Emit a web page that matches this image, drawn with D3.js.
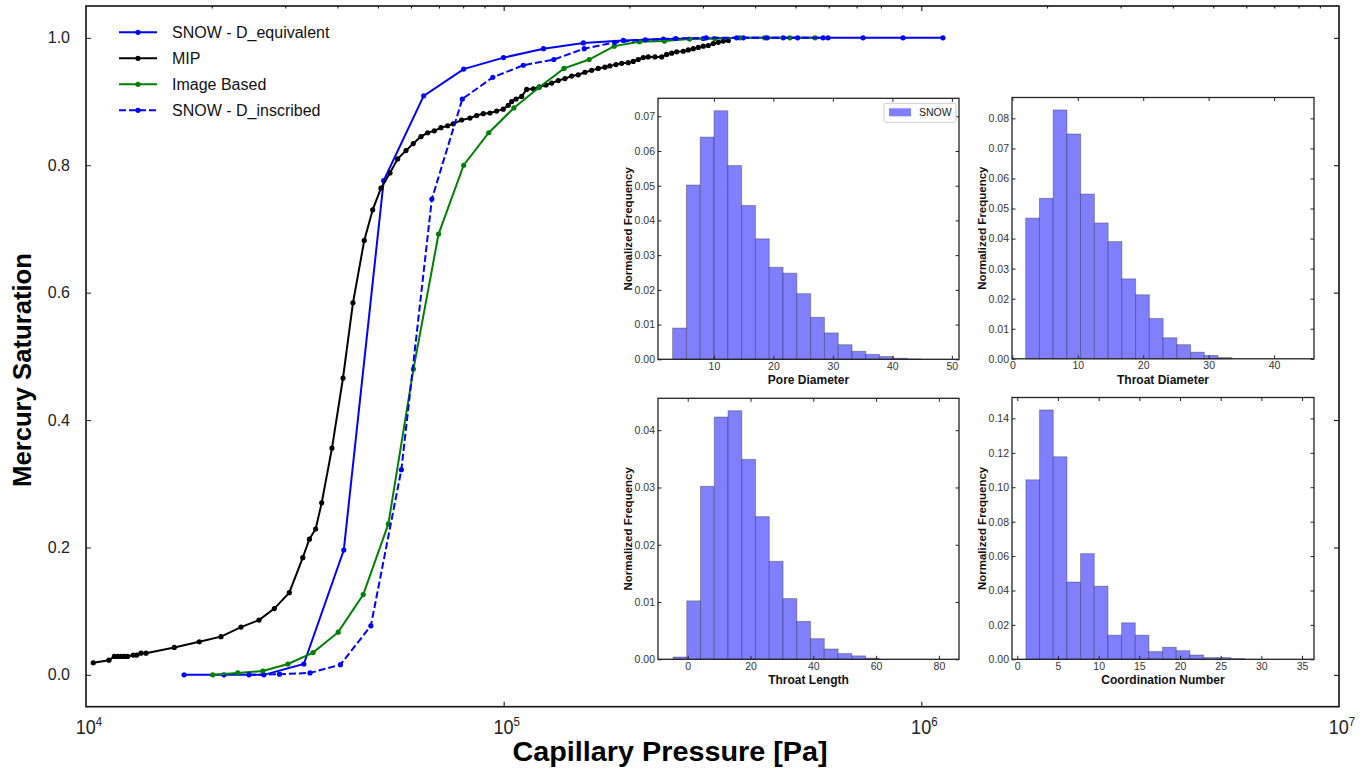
<!DOCTYPE html>
<html lang="en">
<head>
<meta charset="utf-8">
<title>Capillary pressure curves with pore network histograms</title>
<script src="https://d3js.org/d3.v7.min.js" charset="utf-8"></script>
<style type="text/css">
	body { margin: 0; background: #fff; }
	svg { display: block; font-family: "Liberation Sans", Arial, sans-serif; }
	.domain { display: none; }
</style>
</head>
<body>
<script type="text/javascript">

// Main chart data (pressure in Pa, mercury saturation)
var pressureEquivalent = [17170, 21390, 26660, 33230, 41420, 51620, 64340, 80190, 99930, 124560,
	155240, 193480, 241150, 300550, 374600, 466900, 581900, 725300, 903900, 1126600];
var satEquivalent = [0, 0, 0, 0.017, 0.196, 0.776, 0.909, 0.951, 0.969, 0.983,
	0.992, 0.996, 0.998, 0.999, 1, 1, 1, 1, 1, 1];

var pressureMIP = [10410, 11350, 11690, 11910, 12130, 12350, 12580, 12980, 13230, 13540,
	13920, 16270, 18670, 21050, 23500, 25950, 28240, 30670, 33040, 34260,
	35470, 36670, 38810, 41240, 43570, 46370, 48570, 50840, 53430, 55750,
	58360, 60750, 63390, 65770, 68210, 70770, 73430, 75740, 79320, 83030,
	86150, 89350, 92710, 96200, 99780, 102570, 104510, 107010, 110430, 113510,
	117720, 121680, 126250, 130280, 135100, 140190, 145460, 150840, 156520, 162400,
	168420, 174780, 179670, 185710, 191620, 198730, 204280, 210000, 215870, 221910,
	230260, 238910, 245590, 252460, 259520, 269140, 276670, 284410, 292360, 300540,
	308940, 317580, 326460, 335590, 344980];
var satMIP = [0.019, 0.023, 0.029, 0.029, 0.029, 0.029, 0.029, 0.031, 0.031, 0.034,
	0.034, 0.043, 0.052, 0.060, 0.075, 0.086, 0.104, 0.129, 0.184, 0.213,
	0.229, 0.270, 0.356, 0.466, 0.584, 0.682, 0.730, 0.764, 0.788, 0.810,
	0.823, 0.834, 0.845, 0.851, 0.854, 0.859, 0.862, 0.865, 0.871, 0.874,
	0.878, 0.881, 0.882, 0.885, 0.888, 0.894, 0.900, 0.904, 0.908, 0.919,
	0.920, 0.923, 0.926, 0.929, 0.933, 0.936, 0.940, 0.942, 0.946, 0.949,
	0.952, 0.954, 0.956, 0.958, 0.960, 0.961, 0.963, 0.966, 0.969, 0.970,
	0.970, 0.970, 0.974, 0.976, 0.978, 0.979, 0.981, 0.983, 0.985, 0.987,
	0.988, 0.991, 0.993, 0.995, 0.996];

var pressureImage = [20110, 23090, 26510, 30450, 34970, 40160, 46110, 52960, 60810, 69840,
	80210, 92110, 105780, 121470, 139490, 160190, 183960, 211350, 242660, 278610,
	319960, 367470, 422040, 484670, 556560];
var satImage = [0, 0.003, 0.006, 0.017, 0.035, 0.067, 0.126, 0.237, 0.48, 0.692,
	0.800, 0.851, 0.890, 0.922, 0.952, 0.966, 0.987, 0.994, 0.995, 0.998,
	0.999, 1, 1, 1, 1];

var pressureInscribed = [24560, 29050, 34380, 40650, 48090, 56890, 67310, 79620, 94190, 111430,
	131830, 155900, 184480, 218270, 258180, 305320, 361300, 427360, 505550, 598000];
var satInscribed = [0, 0.001, 0.003, 0.016, 0.077, 0.322, 0.747, 0.904, 0.938, 0.957,
	0.966, 0.983, 0.993, 0.997, 0.999, 1, 1, 1, 1, 1];

var seriesNames = ["SNOW - D_equivalent", "MIP", "Image Based", "SNOW - D_inscribed"];
var seriesColors = ["#0000ff", "#000000", "#008000", "#0000ff"];
var seriesDash = [null, null, null, "7,3"];

// Main axes
var xLimits = [1e4, 1e7];
var yLimits = [-0.05, 1.05];
var xTicks = [1e4, 1e5, 1e6, 1e7];
var xTickExp = ["4", "5", "6", "7"];
var yTicks = [0, 0.2, 0.4, 0.6, 0.8, 1.0];

// Histogram insets (normalized frequency per bin)
var poreDiameter = [0.0090, 0.0502, 0.0640, 0.0716, 0.0558, 0.0443, 0.0347, 0.0265, 0.0248, 0.0189,
	0.0121, 0.0076, 0.0042, 0.0023, 0.0014, 0.0008, 0.0003, 0.0001];
var throatDiameter = [0.0468, 0.0534, 0.0828, 0.0748, 0.0548, 0.0452, 0.0390, 0.0266, 0.0213, 0.0134,
	0.0070, 0.0047, 0.0022, 0.0011, 0.0004];
var throatLength = [0.0004, 0.0102, 0.0302, 0.0423, 0.0434, 0.0349, 0.0249, 0.0171, 0.0106, 0.0066,
	0.0036, 0.0018, 0.0010, 0.0006, 0.0002];
var coordNumber = [0.1043, 0.1449, 0.1177, 0.0449, 0.0614, 0.0425, 0.0140, 0.0212, 0.0140, 0.0045,
	0.0070, 0.0050, 0.0025, 0.0010, 0.0010, 0.0004];

var histLabels = ["Pore Diameter", "Throat Diameter", "Throat Length", "Coordination Number"];
var binStarts = [3.06, 2.04, -4.68, 1.06];
var binWidths = [2.32, 2.10, 4.38, 1.68];
var histXLimits = [[0.6, 51.2], [-0.05, 46.1], [-9.46, 86.4], [-0.65, 36.47]];
var histXTicks = [[10, 20, 30, 40, 50], [0, 10, 20, 30, 40], [0, 20, 40, 60, 80], [0, 5, 10, 15, 20, 25, 30, 35]];
var histYTicks = [
	[0, 0.01, 0.02, 0.03, 0.04, 0.05, 0.06, 0.07],
	[0, 0.01, 0.02, 0.03, 0.04, 0.05, 0.06, 0.07, 0.08],
	[0, 0.01, 0.02, 0.03, 0.04],
	[0, 0.02, 0.04, 0.06, 0.08, 0.10, 0.12, 0.14]
];

// Dimensions
var w = 1370;
var h = 768;
var margin = {top: 6, right: 31, bottom: 61.3, left: 86};

var svg = d3.select("body")
	.append("svg")
	.attr("width", w)
	.attr("height", h);

var xScale = d3.scaleLog()
	.domain(xLimits)
	.range([margin.left, w - margin.right]);
var yScale = d3.scaleLinear()
	.domain(yLimits)
	.range([h - margin.bottom, margin.top]);

var plotW = w - margin.left - margin.right;
var plotH = h - margin.top - margin.bottom;

// Left axis with labels, ticks pointing in
svg.append("g")
	.attr("transform", "translate(" + margin.left + ",0)")
	.call(d3.axisLeft(yScale).tickValues(yTicks).tickSize(-5).tickPadding(16).tickFormat(d3.format(".1f")))
	.call(function(g) {
		g.selectAll("text").style("font-size", "16px").attr("fill", "#222");
		g.selectAll("line").attr("stroke", "#222");
	});

// Right axis, ticks only
svg.append("g")
	.attr("transform", "translate(" + (w - margin.right) + ",0)")
	.call(d3.axisRight(yScale).tickValues(yTicks).tickSize(-5).tickFormat(""));

// Bottom axis, major ticks only
svg.append("g")
	.attr("transform", "translate(0," + (h - margin.bottom) + ")")
	.call(d3.axisBottom(xScale).tickValues(xTicks.slice(1, 3)).tickSize(-5).tickFormat(""));

// Top axis with minor ticks
var minorTicks = xScale.ticks().filter(function(d) {
	return Math.abs(Math.log10(d) - Math.round(Math.log10(d))) > 1e-6;
});
svg.append("g")
	.attr("transform", "translate(0," + margin.top + ")")
	.call(d3.axisTop(xScale).tickValues(xTicks.slice(1, 3)).tickSize(-5).tickFormat(""));
svg.append("g")
	.attr("transform", "translate(0," + margin.top + ")")
	.call(d3.axisTop(xScale).tickValues(minorTicks).tickSize(-2.5).tickFormat(""));

// x tick labels as powers of ten
var xLab = svg.selectAll(".xlab")
	.data(xTicks)
	.enter()
	.append("text")
	.attr("class", "xlab")
	.attr("transform", function(d) { return "translate(" + (xScale(d) + 3) + ",734) scale(0.88,1)"; })
	.attr("text-anchor", "middle")
	.attr("fill", "#222")
	.style("font-size", "20.5px");
xLab.append("tspan").text("10");
xLab.append("tspan")
	.attr("dy", -8)
	.style("font-size", "13px")
	.text(function(d, i) { return xTickExp[i]; });

// Frame
svg.append("rect")
	.attr("x", margin.left)
	.attr("y", margin.top)
	.attr("width", plotW)
	.attr("height", plotH)
	.attr("fill", "none")
	.attr("stroke", "#111")
	.attr("stroke-width", 1.6);

// Axis titles
svg.append("text")
	.attr("x", 670)
	.attr("y", 761)
	.attr("text-anchor", "middle")
	.attr("textLength", 315)
	.attr("lengthAdjust", "spacingAndGlyphs")
	.style("font-size", "27px")
	.style("font-weight", "bold")
	.text("Capillary Pressure [Pa]");

svg.append("text")
	.attr("transform", "translate(31,370) rotate(-90)")
	.attr("text-anchor", "middle")
	.attr("textLength", 234)
	.attr("lengthAdjust", "spacingAndGlyphs")
	.style("font-size", "26px")
	.style("font-weight", "bold")
	.text("Mercury Saturation");

// Curves
var allSeries = [
	d3.zip(pressureEquivalent, satEquivalent),
	d3.zip(pressureMIP, satMIP),
	d3.zip(pressureImage, satImage),
	d3.zip(pressureInscribed, satInscribed)
];

var line = d3.line()
	.x(function(d) { return xScale(d[0]); })
	.y(function(d) { return yScale(d[1]); });

var clip = svg.append("clipPath").attr("id", "plotclip")
	.append("rect")
	.attr("x", margin.left).attr("y", margin.top)
	.attr("width", plotW).attr("height", plotH);

var curves = svg.append("g").attr("clip-path", "url(#plotclip)");

allSeries.forEach(function(data, i) {
	var g = curves.append("g");
	g.append("path")
		.datum(data)
		.attr("d", line)
		.attr("fill", "none")
		.attr("stroke", seriesColors[i])
		.attr("stroke-width", 2)
		.attr("stroke-dasharray", seriesDash[i]);
	g.selectAll("circle")
		.data(data)
		.enter()
		.append("circle")
		.attr("cx", function(d) { return xScale(d[0]); })
		.attr("cy", function(d) { return yScale(d[1]); })
		.attr("r", 2.6)
		.attr("fill", seriesColors[i]);
});

// Legend
var legend = svg.selectAll(".legend")
	.data(seriesNames)
	.enter()
	.append("g")
	.attr("class", "legend")
	.attr("transform", function(d, i) { return "translate(119," + (32.3 + i * 26) + ")"; });
legend.append("line")
	.attr("x1", 0).attr("x2", 38)
	.attr("stroke", function(d, i) { return seriesColors[i]; })
	.attr("stroke-width", 2)
	.attr("stroke-dasharray", function(d, i) { return seriesDash[i]; });
legend.append("circle")
	.attr("cx", 19)
	.attr("r", 2.6)
	.attr("fill", function(d, i) { return seriesColors[i]; });
legend.append("text")
	.attr("x", 53)
	.attr("dy", "0.36em")
	.attr("fill", "#111")
	.style("font-size", "16px")
	.text(function(d) { return d; });

// Histogram insets
var insetBoxes = [[658, 98.3, 301, 261], [1012, 97.5, 302, 261.3], [658, 398.3, 301, 261], [1012, 397.5, 302, 261.8]];
var histData = [poreDiameter, throatDiameter, throatLength, coordNumber];

histData.forEach(function(heights, k) {
	var box = insetBoxes[k];
	var ox = box[0], oy = box[1], iw = box[2], ih = box[3];
	var start = binStarts[k], bw = binWidths[k];

	var xs = d3.scaleLinear().domain(histXLimits[k]).range([ox, ox + iw]);
	var ys = d3.scaleLinear().domain([0, d3.max(heights) * 1.05]).range([oy + ih, oy]);

	var g = svg.append("g");

	g.append("rect")
		.attr("x", ox).attr("y", oy)
		.attr("width", iw).attr("height", ih)
		.attr("fill", "#fff");

	g.selectAll(".bar")
		.data(heights)
		.enter()
		.append("rect")
		.attr("class", "bar")
		.attr("x", function(d, i) { return xs(start + i * bw); })
		.attr("width", function(d, i) { return xs(start + (i + 1) * bw) - xs(start + i * bw); })
		.attr("y", function(d) { return ys(d); })
		.attr("height", function(d) { return ys(0) - ys(d); })
		.attr("fill", "#8080ff")
		.attr("stroke", "#000")
		.attr("stroke-opacity", 0.3)
		.attr("stroke-width", 1);

	var fmt = d3.format(".2f");
	var styleTicks = function(sel) {
		sel.selectAll("text").style("font-size", "10.5px").attr("fill", "#333");
		sel.selectAll("line").attr("stroke", "#222");
	};

	g.append("g")
		.attr("transform", "translate(0," + (oy + ih) + ")")
		.call(d3.axisBottom(xs).tickValues(histXTicks[k]).tickSize(-3.5).tickPadding(3))
		.call(styleTicks);
	g.append("g")
		.attr("transform", "translate(0," + oy + ")")
		.call(d3.axisTop(xs).tickValues(histXTicks[k]).tickSize(-3.5).tickFormat(""))
		.call(styleTicks);
	g.append("g")
		.attr("transform", "translate(" + ox + ",0)")
		.call(d3.axisLeft(ys).tickValues(histYTicks[k]).tickSize(-3.5).tickPadding(3).tickFormat(fmt))
		.call(styleTicks);
	g.append("g")
		.attr("transform", "translate(" + (ox + iw) + ",0)")
		.call(d3.axisRight(ys).tickValues(histYTicks[k]).tickSize(-3.5).tickFormat(""))
		.call(styleTicks);

	g.append("rect")
		.attr("x", ox).attr("y", oy)
		.attr("width", iw).attr("height", ih)
		.attr("fill", "none")
		.attr("stroke", "#222")
		.attr("stroke-width", 1.3);

	g.append("text")
		.attr("x", ox + iw / 2)
		.attr("y", oy + ih + 25)
		.attr("text-anchor", "middle")
		.attr("fill", "#111")
		.style("font-size", "12px")
		.style("font-weight", "bold")
		.text(histLabels[k]);

	g.append("text")
		.attr("transform", "translate(" + (ox - 26.5) + "," + (oy + ih / 2) + ") rotate(-90)")
		.attr("text-anchor", "middle")
		.attr("fill", "#111")
		.style("font-size", "11.5px")
		.style("font-weight", "bold")
		.text("Normalized Frequency");

	// Only the first inset carries a legend
	if (k === 0) {
		g.append("rect")
			.attr("x", ox + iw - 75).attr("y", oy + 5)
			.attr("width", 72).attr("height", 19)
			.attr("rx", 2)
			.attr("fill", "#fff")
			.attr("stroke", "#ccc");
		g.append("rect")
			.attr("x", ox + iw - 70).attr("y", oy + 10)
			.attr("width", 22).attr("height", 8)
			.attr("fill", "#8080ff");
		g.append("text")
			.attr("x", ox + iw - 40)
			.attr("y", oy + 14)
			.attr("dy", "0.36em")
			.attr("fill", "#222")
			.style("font-size", "10.5px")
			.text("SNOW");
	}
});

</script>
</body>
</html>
